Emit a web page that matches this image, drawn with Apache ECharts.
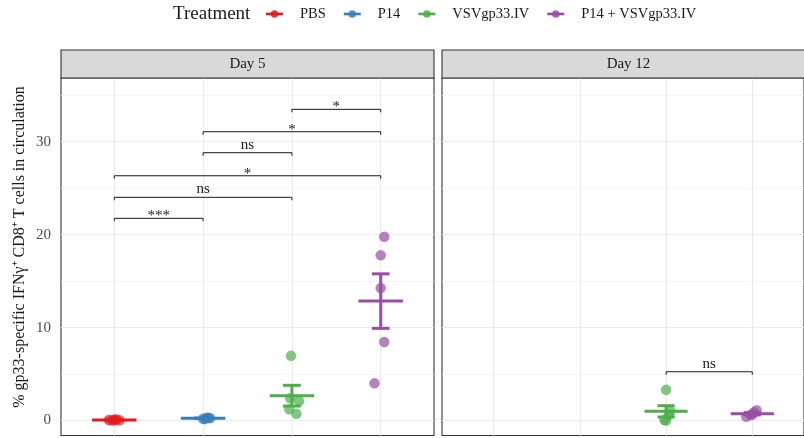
<!DOCTYPE html>
<html><head><meta charset="utf-8">
<script src="https://cdn.jsdelivr.net/npm/echarts@6/dist/echarts.min.js"></script>
<style>html,body{margin:0;padding:0;background:#fff}#c{width:804px;height:438px}</style>
</head><body><div id="c"></div>
<script>
// ---------- data ----------
const groups = ['PBS', 'P14', 'VSVgp33.IV', 'P14 + VSVgp33.IV'];
const colors = ['#E41A1C', '#377EB8', '#4DAF4A', '#984EA3'];
const facets = ['Day 5', 'Day 12'];
const yTickValues = [0, 10, 20, 30];
const yMinorValues = [5, 15, 25, 35];
const xCatPositions = [1, 2, 3, 4];

// Day 5 individual values (%)
const day5_PBS = [0.05, 0.0, 0.1, 0.02, 0.08];
const day5_P14 = [0.2, 0.3, 0.25, 0.15, 0.3];
const day5_VSV = [6.97, 2.39, 2.07, 1.21, 0.73];
const day5_P14VSV = [19.78, 17.78, 14.26, 8.45, 4.0];
// Day 12 individual values (%)
const day12_PBS = [];
const day12_P14 = [];
const day12_VSV = [3.3, 1.0, 0.6, 0.05, 0.0];
const day12_P14VSV = [0.4, 1.1, 0.9, 0.6, 0.65];

// horizontal jitter (category units)
const jit_day5_PBS = [-0.06, -0.02, 0.02, 0.06, 0.0];
const jit_day5_P14 = [0.0, 0.04, 0.08, 0.02, 0.06];
const jit_day5_VSV = [-0.01, -0.02, 0.08, -0.03, 0.05];
const jit_day5_P14VSV = [0.04, 0.0, 0.0, 0.04, -0.07];
const jit_day12_VSV = [0.0, 0.05, 0.03, -0.02, 0.0];
const jit_day12_P14VSV = [-0.07, 0.05, 0.02, -0.02, 0.0];

// significance brackets: [fromCat, toCat, y]
const brackets_day5 = [[1, 2, 21.76], [1, 3, 24.02], [1, 4, 26.34], [2, 3, 28.82], [2, 4, 31.08], [3, 4, 33.49]];
const bracketLabels_day5 = ['***', 'ns', '*', 'ns', '*', '*'];
const brackets_day12 = [[3, 4, 5.25]];
const bracketLabels_day12 = ['ns'];

// ---------- layout ----------
const FONT = 'Liberation Serif';
const panelTop = 78, panelBottom = 435.5;
const panels = [{ left: 61, width: 373 }, { left: 442, width: 374 }];
const stripTop = 50;
const yMin = -1.61, yMax = 36.86;

const dayValues = [
  [day5_PBS, day5_P14, day5_VSV, day5_P14VSV],
  [day12_PBS, day12_P14, day12_VSV, day12_P14VSV]
];
const dayJitter = [
  [jit_day5_PBS, jit_day5_P14, jit_day5_VSV, jit_day5_P14VSV],
  [[], [], jit_day12_VSV, jit_day12_P14VSV]
];
const dayBrackets = [brackets_day5, brackets_day12];
const dayBracketLabels = [bracketLabels_day5, bracketLabels_day12];

function meanSem(arr) {
  const n = arr.length;
  const m = arr.reduce((a, b) => a + b, 0) / n;
  const sd = Math.sqrt(arr.reduce((a, b) => a + (b - m) * (b - m), 0) / (n - 1));
  return [m, sd / Math.sqrt(n)];
}

const grids = [], xAxes = [], yAxes = [], series = [], graphics = [];
panels.forEach((p, i) => {
  grids.push({ left: p.left, top: panelTop, width: p.width, height: panelBottom - panelTop,
    show: true, borderColor: '#333333', borderWidth: 1.1, backgroundColor: '#fff', containLabel: false });
  xAxes.push({ gridIndex: i, type: 'value', min: 0.4, max: 4.6,
    axisLine: { show: false }, axisLabel: { show: false },
    axisTick: { show: false, customValues: xCatPositions },
    splitLine: { show: true, lineStyle: { color: '#EBEBEB', width: 1.2 } } });
  yAxes.push({ gridIndex: i, type: 'value', min: yMin, max: yMax,
    axisLine: { show: false },
    axisTick: { show: false, customValues: yTickValues },
    axisLabel: { show: i === 0, customValues: yTickValues, color: '#4D4D4D', fontSize: 15, fontFamily: FONT, margin: 10 },
    splitLine: { show: true, lineStyle: { color: '#EBEBEB', width: 1.2 } } });
  yAxes.push({ gridIndex: i, type: 'value', min: yMin, max: yMax, position: 'left',
    axisLine: { show: false }, axisLabel: { show: false },
    axisTick: { show: false, customValues: yMinorValues },
    splitLine: { show: true, lineStyle: { color: '#F2F2F2', width: 0.8 } } });

  // strip
  graphics.push({ type: 'rect', shape: { x: p.left, y: stripTop, width: p.width, height: panelTop - stripTop },
    style: { fill: '#D9D9D9', stroke: '#333333', lineWidth: 1.1 }, z: 10 });
  graphics.push({ type: 'text', x: p.left + p.width / 2 - (i === 1 ? 0.5 : 0), y: (stripTop + panelTop) / 2,
    style: { text: facets[i], font: '15px "' + FONT + '"', fill: '#1A1A1A', align: 'center', verticalAlign: 'middle' }, z: 11 });

  // points
  groups.forEach((g, gi) => {
    const vals = dayValues[i][gi];
    if (!vals.length) return;
    const jit = dayJitter[i][gi];
    series.push({ type: 'scatter', name: g, xAxisIndex: i, yAxisIndex: i * 2,
      data: vals.map((v, k) => [xCatPositions[gi] + jit[k], v]),
      symbolSize: 10.5, itemStyle: { color: colors[gi], opacity: 0.7 }, z: 3, silent: true });
  });

  // mean +/- SEM
  groups.forEach((g, gi) => {
    const vals = dayValues[i][gi];
    if (!vals.length) return;
    const ms = meanSem(vals);
    series.push({ type: 'custom', name: g, xAxisIndex: i, yAxisIndex: i * 2,
      data: [[xCatPositions[gi], ms[0], ms[1]]], z: 4, silent: true,
      renderItem: function (params, api) {
        const x = api.value(0), m = api.value(1), s = api.value(2);
        const pm1 = api.coord([x - 0.25, m]), pm2 = api.coord([x + 0.25, m]);
        const pt = api.coord([x, m + s]), pb = api.coord([x, m - s]);
        const c1 = api.coord([x - 0.1, m + s]), c2 = api.coord([x + 0.1, m + s]);
        const c3 = api.coord([x - 0.1, m - s]), c4 = api.coord([x + 0.1, m - s]);
        const st = { stroke: colors[gi], lineWidth: 3, fill: null };
        return { type: 'group', children: [
          { type: 'line', shape: { x1: pm1[0], y1: pm1[1], x2: pm2[0], y2: pm2[1] }, style: st },
          { type: 'line', shape: { x1: pt[0], y1: pt[1], x2: pb[0], y2: pb[1] }, style: st },
          { type: 'line', shape: { x1: c1[0], y1: c1[1], x2: c2[0], y2: c2[1] }, style: st },
          { type: 'line', shape: { x1: c3[0], y1: c3[1], x2: c4[0], y2: c4[1] }, style: st }
        ] };
      } });
  });

  // brackets
  const labels = dayBracketLabels[i];
  series.push({ type: 'custom', xAxisIndex: i, yAxisIndex: i * 2, data: dayBrackets[i], z: 5, silent: true,
    renderItem: function (params, api) {
      const p1 = api.coord([api.value(0), api.value(2)]);
      const p2 = api.coord([api.value(1), api.value(2)]);
      const lab = labels[params.dataIndex];
      const star = lab.indexOf('*') >= 0;
      const tip = 3;
      return { type: 'group', children: [
        { type: 'polyline', shape: { points: [[p1[0], p1[1] + tip], [p1[0], p1[1]], [p2[0], p2[1]], [p2[0], p2[1] + tip]] },
          style: { stroke: '#1A1A1A', lineWidth: 1, fill: null } },
        { type: 'text', x: (p1[0] + p2[0]) / 2, y: p1[1] - (star ? 2 : 8),
          style: { text: lab, font: '15px "' + FONT + '"', fill: '#1A1A1A', align: 'center', verticalAlign: 'middle' } }
      ] };
    } });
});

// y axis title
graphics.push({ type: 'text', x: 20, y: 247, rotation: Math.PI / 2,
  style: { text: '% gp33-specific IFNγ⁺ CD8⁺ T cells in circulation', font: '16px "' + FONT + '"', fill: '#1A1A1A', align: 'center', verticalAlign: 'middle' } });

// legend (sequential layout measured from text widths)
const legendY = 14;
const itemFont = '14.5px "' + FONT + '"';
const measureCtx = document.createElement('canvas').getContext('2d');
measureCtx.font = itemFont;
graphics.push({ type: 'text', x: 173, y: legendY, style: { text: 'Treatment', font: '19px "' + FONT + '"', fill: '#1A1A1A', align: 'left', verticalAlign: 'middle' } });
let lx = 266;
const keyW = 17, keyToText = 17, textToKey = 18;
groups.forEach((g, gi) => {
  graphics.push({ type: 'line', shape: { x1: lx, y1: legendY, x2: lx + keyW, y2: legendY }, style: { stroke: colors[gi], lineWidth: 2.6 } });
  graphics.push({ type: 'circle', shape: { cx: lx + keyW / 2, cy: legendY, r: 3.8 }, style: { fill: colors[gi], opacity: 0.85 } });
  const tx = lx + keyW + keyToText;
  graphics.push({ type: 'text', x: tx, y: legendY, style: { text: g, font: itemFont, fill: '#1A1A1A', align: 'left', verticalAlign: 'middle' } });
  lx = tx + measureCtx.measureText(g).width + textToKey;
});

const chart = echarts.init(document.getElementById('c'), null, { renderer: 'canvas' });
chart.setOption({
  backgroundColor: '#ffffff',
  animation: false,
  grid: grids, xAxis: xAxes, yAxis: yAxes, series: series,
  graphic: graphics
});
</script>
</body></html>
